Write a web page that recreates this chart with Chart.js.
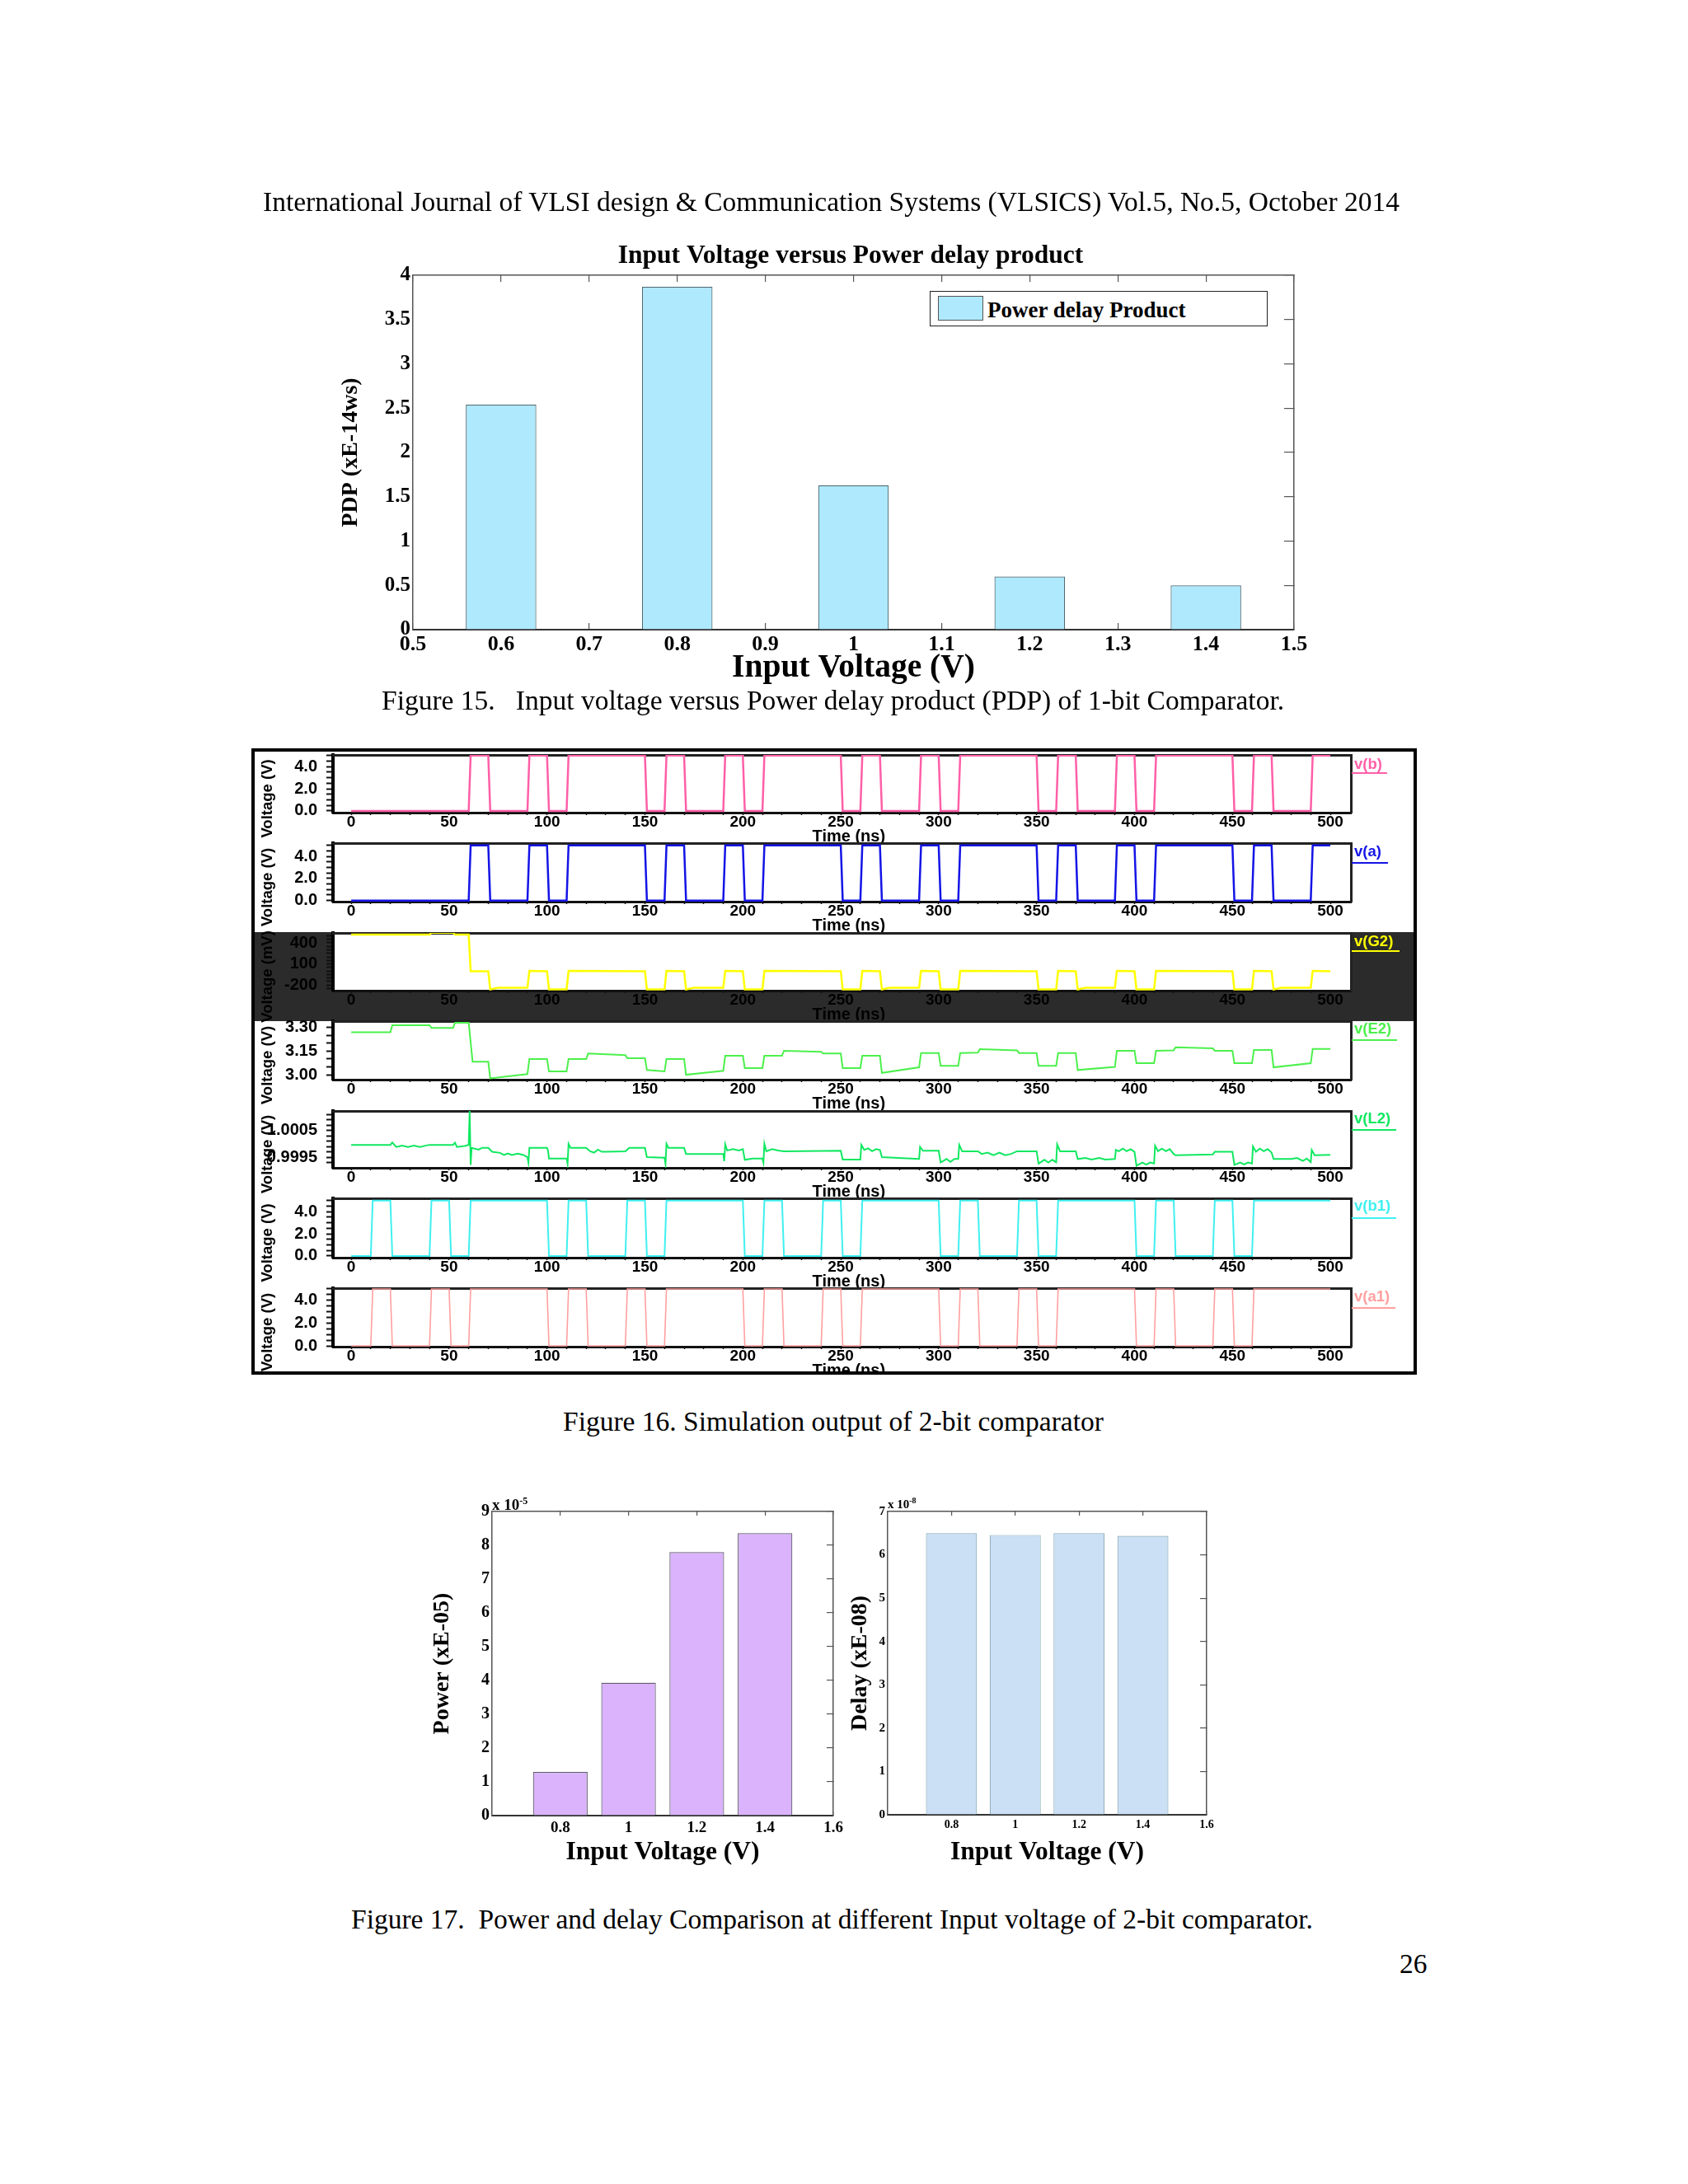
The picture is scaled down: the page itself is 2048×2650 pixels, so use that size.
<!DOCTYPE html>
<html>
<head>
<meta charset="utf-8">
<title>Figures 15-17</title>
<script src="https://cdn.jsdelivr.net/npm/chart.js@4/dist/chart.umd.min.js"></script>
<style>
  html, body { margin: 0; padding: 0; background: #fff; }
  #page { position: relative; width: 2048px; height: 2650px; overflow: hidden; }
  #page canvas { position: absolute; }
  .txt { position: absolute; line-height: 1; white-space: pre; color: #000; font-family: "Liberation Serif", serif; }
  #fig16 { position: absolute; left: 0; top: 0; width: 2048px; height: 1668px; overflow: hidden; filter: blur(0.5px); }
  #band { position: absolute; left: 305px; top: 1131px; width: 1414px; height: 108px; background: #2b2b2b; }
  #frame { position: absolute; left: 305px; top: 908px; width: 1414px; height: 760px; border: 4px solid #000; box-sizing: border-box; }
  #pdpLegend { position: absolute; left: 1128px; top: 353px; width: 410px; height: 43px; box-sizing: border-box; border: 1.5px solid #222; background: #fff; }
  #pdpSwatch { position: absolute; left: 9px; top: 5px; width: 55px; height: 30px; box-sizing: border-box; background: #aee9fd; border: 1px solid #555; }
</style>
</head>
<body>
<div id="page">
  <div id="fig16"><div id="band"></div></div>
</div>
<script>
// Figure 15: PDP
const pdpVoltage = [0.6, 0.8, 1.0, 1.2, 1.4];
const pdpValues = [2.54, 3.87, 1.63, 0.60, 0.50];
const pdpXTicks = [0.5, 0.6, 0.7, 0.8, 0.9, 1.0, 1.1, 1.2, 1.3, 1.4, 1.5];
const pdpYTicks = [0, 0.5, 1, 1.5, 2, 2.5, 3, 3.5, 4];

// Figure 17: power and delay
const cmpVoltage = [0.8, 1.0, 1.2, 1.4];
const powerValues = [1.29, 3.93, 7.80, 8.36];
const delayValues = [6.50, 6.46, 6.50, 6.44];
const cmpXTicks = [0.8, 1.0, 1.2, 1.4, 1.6];
const powerYTicks = [0, 1, 2, 3, 4, 5, 6, 7, 8, 9];
const delayYTicks = [0, 1, 2, 3, 4, 5, 6, 7];

// Figure 16: waveforms
const timeTicks = [0, 10, 20, 30, 40, 50, 60, 70, 80, 90, 100, 110, 120, 130, 140, 150, 160, 170, 180, 190, 200, 210, 220, 230, 240, 250, 260, 270, 280, 290, 300, 310, 320, 330, 340, 350, 360, 370, 380, 390, 400, 410, 420, 430, 440, 450, 460, 470, 480, 490, 500];
const timeLabels = [0, 50, 100, 150, 200, 250, 300, 350, 400, 450, 500];

const voltTicks = [0, 0.5, 1, 1.5, 2, 2.5, 3, 3.5, 4, 4.5, 5];
const voltLabelValues = [0, 2, 4];
const voltLabelText = ['0.0', '2.0', '4.0'];
const g2Ticks = [-250, -200, -150, -100, -50, 0, 50, 100, 150, 200, 250, 300, 350, 400, 450, 500];
const g2LabelValues = [-200, 100, 400];
const g2LabelText = ['-200', '100', '400'];
const e2Ticks = [3.0, 3.05, 3.1, 3.15, 3.2, 3.25, 3.3];
const e2LabelValues = [3.0, 3.15, 3.3];
const e2LabelText = ['3.00', '3.15', '3.30'];
const l2Ticks = [0.9993, 0.9995, 0.9997, 0.9999, 1.0001, 1.0003, 1.0005, 1.0007, 1.0009, 1.0011];
const l2LabelValues = [0.9995, 1.0005];
const l2LabelText = ['0.9995', '1.0005'];

const vbTime = [0, 60, 61, 70, 71, 90, 91, 100, 101, 110, 111, 150, 151, 160, 161, 170, 171, 190, 191, 200, 201, 210, 211, 250, 251, 260, 261, 270, 271, 290, 291, 300, 301, 310, 311, 350, 351, 360, 361, 370, 371, 390, 391, 400, 401, 410, 411, 450, 451, 460, 461, 470, 471, 490, 491, 500];
const vbVolt = [0, 0, 5, 5, 0, 0, 5, 5, 0, 0, 5, 5, 0, 0, 5, 5, 0, 0, 5, 5, 0, 0, 5, 5, 0, 0, 5, 5, 0, 0, 5, 5, 0, 0, 5, 5, 0, 0, 5, 5, 0, 0, 5, 5, 0, 0, 5, 5, 0, 0, 5, 5, 0, 0, 5, 5];
const vaTime = [0, 60, 61, 70, 71, 90, 91, 100, 101, 110, 111, 150, 151, 160, 161, 170, 171, 190, 191, 200, 201, 210, 211, 250, 251, 260, 261, 270, 271, 290, 291, 300, 301, 310, 311, 350, 351, 360, 361, 370, 371, 390, 391, 400, 401, 410, 411, 450, 451, 460, 461, 470, 471, 490, 491, 500];
const vaVolt = [0, 0, 5, 5, 0, 0, 5, 5, 0, 0, 5, 5, 0, 0, 5, 5, 0, 0, 5, 5, 0, 0, 5, 5, 0, 0, 5, 5, 0, 0, 5, 5, 0, 0, 5, 5, 0, 0, 5, 5, 0, 0, 5, 5, 0, 0, 5, 5, 0, 0, 5, 5, 0, 0, 5, 5];

const g2Time = [0, 40, 41, 52, 53, 60, 61, 70, 71, 75, 90, 91, 100, 101, 110, 111, 150, 151, 160, 161, 170, 171, 175, 190, 191, 200, 201, 210, 211, 250, 251, 260, 261, 270, 271, 275, 290, 291, 300, 301, 310, 311, 350, 351, 360, 361, 370, 371, 375, 390, 391, 400, 401, 410, 411, 450, 451, 460, 461, 470, 471, 475, 490, 491, 500];
const g2Volt = [517, 517, 545, 545, 517, 517, -5, -5, -265, -240, -240, 0, -5, -265, -265, 0, -5, -265, -265, 0, -5, -265, -240, -240, 0, -5, -265, -265, 0, -5, -265, -265, 0, -5, -265, -240, -240, 0, -5, -265, -265, 0, -5, -265, -265, 0, -5, -265, -240, -240, 0, -5, -265, -265, 0, -5, -265, -265, 0, -5, -265, -240, -240, 0, -5];

const e2Time = [0, 20, 21, 40, 41, 52, 53, 60, 62, 70, 71, 90, 91, 100, 101, 110, 111, 120, 121, 140, 141, 150, 151, 160, 161, 170, 171, 190, 191, 200, 201, 210, 211, 220, 221, 240, 241, 250, 251, 260, 261, 270, 271, 290, 291, 300, 301, 310, 311, 320, 321, 340, 341, 350, 351, 360, 361, 370, 371, 390, 391, 400, 401, 410, 411, 420, 421, 440, 441, 450, 451, 460, 461, 470, 471, 490, 491, 500];
const e2Volt = [3.269, 3.269, 3.314, 3.314, 3.297, 3.297, 3.33, 3.33, 3.082, 3.082, 2.977, 3.004, 3.10, 3.10, 3.021, 3.021, 3.10, 3.10, 3.135, 3.125, 3.105, 3.105, 3.03, 3.021, 3.10, 3.10, 3.0, 3.025, 3.12, 3.12, 3.042, 3.042, 3.12, 3.12, 3.152, 3.145, 3.135, 3.135, 3.042, 3.042, 3.12, 3.12, 3.012, 3.047, 3.138, 3.138, 3.056, 3.056, 3.138, 3.14, 3.162, 3.155, 3.138, 3.138, 3.056, 3.056, 3.138, 3.138, 3.03, 3.05, 3.152, 3.152, 3.073, 3.073, 3.152, 3.155, 3.174, 3.168, 3.152, 3.152, 3.073, 3.073, 3.157, 3.157, 3.047, 3.073, 3.164, 3.164];

const l2Time = [0, 20, 21, 23, 26, 29, 32, 35, 38, 40, 52, 53, 54, 58, 60, 60.5, 61, 61.5, 65, 67, 70, 72, 76, 78, 80, 82, 85, 88, 90, 90.5, 91, 100, 100.5, 101, 110, 110.5, 111, 112, 120, 122, 124, 126, 128, 130, 140, 142, 150, 151, 160, 160.5, 161, 162, 170, 171, 190, 190.5, 191, 192, 195, 198, 200, 201, 205, 210, 210.5, 211, 212, 215, 218, 221, 250, 251, 260, 260.5, 262, 264, 266, 268, 270, 271, 290, 290.5, 292, 300, 301, 304, 306, 308, 310, 310.5, 312, 320, 322, 325, 328, 331, 334, 337, 340, 350, 351, 354, 356, 358, 360, 360.5, 362, 370, 371, 375, 378, 382, 385, 390, 390.5, 392, 394, 396, 398, 400, 401, 404, 406, 408, 410, 410.5, 412, 414, 416, 418, 420, 421, 440, 441, 450, 451, 454, 456, 458, 460, 460.5, 462, 464, 466, 468, 470, 471, 480, 483, 486, 488, 490, 490.5, 492, 500];
const l2Volt = [0.99996, 0.99996, 1.00005, 0.99988, 0.99993, 0.99988, 0.99993, 0.99988, 0.99993, 0.99996, 0.99996, 1.00004, 0.99988, 0.99992, 0.99996, 1.00123, 0.99921, 0.99985, 0.99978, 0.99985, 0.99985, 0.99970, 0.99966, 0.99958, 0.99964, 0.99958, 0.99963, 0.99958, 0.99950, 0.99930, 0.99985, 0.99985, 0.99975, 0.99945, 0.99945, 0.99925, 1.00000, 0.99985, 0.99985, 0.99972, 0.99967, 0.99978, 0.99970, 0.99970, 0.99972, 0.99985, 0.99985, 0.99950, 0.99948, 0.99925, 1.00000, 0.99985, 0.99985, 0.99962, 0.99962, 0.99935, 0.99998, 0.99975, 0.99980, 0.99975, 0.99980, 0.99940, 0.99945, 0.99945, 0.99930, 1.00000, 0.99972, 0.99980, 0.99975, 0.99972, 0.99974, 0.99941, 0.99941, 0.99996, 0.99977, 0.99983, 0.99972, 0.99980, 0.99977, 0.99950, 0.99943, 0.99988, 0.99974, 0.99974, 0.99930, 0.99943, 0.99932, 0.99943, 0.99943, 0.99996, 0.99972, 0.99972, 0.99962, 0.99967, 0.99957, 0.99967, 0.99957, 0.99962, 0.99972, 0.99972, 0.99926, 0.99940, 0.99930, 0.99940, 0.99931, 0.99998, 0.99972, 0.99972, 0.99943, 0.99947, 0.99941, 0.99947, 0.99941, 0.99943, 0.99977, 0.99972, 0.99982, 0.99972, 0.99980, 0.99970, 0.99918, 0.99930, 0.99922, 0.99930, 0.99926, 0.99993, 0.99972, 0.99982, 0.99972, 0.99980, 0.99962, 0.99957, 0.99960, 0.99970, 0.99970, 0.99921, 0.99930, 0.99923, 0.99930, 0.99926, 0.99990, 0.99970, 0.99982, 0.99972, 0.99980, 0.99967, 0.99943, 0.99943, 0.99947, 0.99936, 0.99945, 0.99931, 0.99977, 0.99957, 0.99959];

const b1Time = [0, 10, 11, 20, 21, 40, 41, 50, 51, 60, 61, 100, 101, 110, 111, 120, 121, 140, 141, 150, 151, 160, 161, 200, 201, 210, 211, 220, 221, 240, 241, 250, 251, 260, 261, 300, 301, 310, 311, 320, 321, 340, 341, 350, 351, 360, 361, 400, 401, 410, 411, 420, 421, 440, 441, 450, 451, 460, 461, 500];
const b1Volt = [0, 0, 5, 5, 0, 0, 5, 5, 0, 0, 5, 5, 0, 0, 5, 5, 0, 0, 5, 5, 0, 0, 5, 5, 0, 0, 5, 5, 0, 0, 5, 5, 0, 0, 5, 5, 0, 0, 5, 5, 0, 0, 5, 5, 0, 0, 5, 5, 0, 0, 5, 5, 0, 0, 5, 5, 0, 0, 5, 5];
const a1Time = [0, 10, 11, 20, 21, 40, 41, 50, 51, 60, 61, 100, 101, 110, 111, 120, 121, 140, 141, 150, 151, 160, 161, 200, 201, 210, 211, 220, 221, 240, 241, 250, 251, 260, 261, 300, 301, 310, 311, 320, 321, 340, 341, 350, 351, 360, 361, 400, 401, 410, 411, 420, 421, 440, 441, 450, 451, 460, 461, 500];
const a1Volt = [0, 0, 5, 5, 0, 0, 5, 5, 0, 0, 5, 5, 0, 0, 5, 5, 0, 0, 5, 5, 0, 0, 5, 5, 0, 0, 5, 5, 0, 0, 5, 5, 0, 0, 5, 5, 0, 0, 5, 5, 0, 0, 5, 5, 0, 0, 5, 5, 0, 0, 5, 5, 0, 0, 5, 5, 0, 0, 5, 5];

const SERIF = '"Liberation Serif", serif';
const SANS = '"Liberation Sans", Arial, sans-serif';
const page = document.getElementById('page');
const fig16 = document.getElementById('fig16');

Chart.defaults.animation = false;
Chart.defaults.responsive = false;

// page text, y is the middle of the line
function addText(parent, html, x, y, size, extra) {
    const el = document.createElement('div');
    el.className = 'txt';
    el.innerHTML = html;
    el.style.left = x + 'px';
    el.style.top = (y - size / 2) + 'px';
    el.style.fontSize = size + 'px';
    if (extra) el.style.cssText += extra;
    parent.appendChild(el);
    return el;
}

function addCanvas(parent, left, top, width, height) {
    const c = document.createElement('canvas');
    c.width = width;
    c.height = height;
    c.style.left = left + 'px';
    c.style.top = top + 'px';
    c.style.width = width + 'px';
    c.style.height = height + 'px';
    parent.appendChild(c);
    return c;
}

function setTicks(values) {
    return function (scale) {
        scale.ticks = values.map(function (v) { return { value: v }; });
    };
}

function shortNumber(value) {
    return String(Number(value.toFixed(1)));
}

// bar figure drawn with MATLAB look: inward ticks on top and right, labels left and bottom
function barChart(cfg) {
    const r = cfg.rect;
    const canvas = addCanvas(page, r.left - cfg.padLeft, r.top - cfg.padTop, r.right - r.left + cfg.padLeft + cfg.padRight, r.bottom - r.top + cfg.padTop + cfg.padBottom);
    const xLimits = { min: cfg.xMin, max: cfg.xMax, offset: false, afterBuildTicks: setTicks(cfg.xTicks) };
    const yLimits = { min: 0, max: cfg.yTicks[cfg.yTicks.length - 1], afterBuildTicks: setTicks(cfg.yTicks) };
    const hair = { color: cfg.axisColor, width: 1.5 };
    return new Chart(canvas, {
        type: 'bar',
        data: {
            datasets: [{
                label: cfg.label,
                data: cfg.x.map(function (v, i) { return { x: v, y: cfg.values[i] }; }),
                backgroundColor: cfg.fill,
                borderColor: cfg.edge,
                borderWidth: 1.2,
                categoryPercentage: 1,
                barPercentage: cfg.barPercent
            }]
        },
        options: {
            layout: { padding: { top: cfg.title ? 0 : cfg.padTop } },
            plugins: {
                legend: { display: false },
                tooltip: { enabled: false },
                title: cfg.title ? {
                    display: true,
                    text: cfg.title,
                    color: '#000',
                    font: { family: SERIF, size: cfg.titleSize, weight: 'bold', lineHeight: 1 },
                    padding: { top: 0, bottom: cfg.padTop - cfg.titleSize }
                } : { display: false }
            },
            scales: {
                x: Object.assign({
                    type: 'linear',
                    position: 'bottom',
                    afterFit: function (s) { s.height = cfg.padBottom; },
                    border: { color: '#333', width: 2 },
                    grid: { offset: false, drawOnChartArea: false, color: cfg.axisColor, tickLength: -cfg.xTickLen, lineWidth: 1.2 },
                    ticks: { autoSkip: false, maxRotation: 0, color: '#000', padding: cfg.xTickPad, callback: shortNumber, font: { family: SERIF, size: cfg.xFont, weight: 'bold', lineHeight: 1 } },
                    title: { display: true, text: 'Input Voltage (V)', color: '#000', padding: { top: 0, bottom: cfg.xTitlePad }, font: { family: SERIF, size: cfg.xTitleSize, weight: 'bold', lineHeight: 1 } }
                }, xLimits),
                y: Object.assign({
                    type: 'linear',
                    position: 'left',
                    afterFit: function (s) { s.width = cfg.padLeft; },
                    border: { color: cfg.axisColor, width: 1.5 },
                    grid: { drawOnChartArea: false, drawTicks: false },
                    ticks: { autoSkip: false, color: '#000', padding: 3, callback: shortNumber, font: { family: SERIF, size: cfg.yFont, weight: 'bold', lineHeight: 1 } },
                    title: { display: true, text: cfg.yTitle, color: '#000', padding: { top: cfg.yTitlePad, bottom: 0 }, font: { family: SERIF, size: cfg.yTitleSize, weight: 'bold', lineHeight: 1 } }
                }, yLimits),
                x2: Object.assign({
                    type: 'linear',
                    position: 'top',
                    afterFit: function (s) { s.height = 0; },
                    border: hair,
                    grid: { offset: false, drawOnChartArea: false, color: cfg.axisColor, tickLength: -cfg.xTickLen, lineWidth: 1.2 },
                    ticks: { display: false }
                }, xLimits),
                y2: Object.assign({
                    type: 'linear',
                    position: 'right',
                    afterFit: function (s) { s.width = cfg.padRight; },
                    border: hair,
                    grid: { drawOnChartArea: false, color: cfg.axisColor, tickLength: -cfg.yTickLen, lineWidth: 1.2 },
                    ticks: { display: false }
                }, yLimits)
            }
        }
    });
}

barChart({
    rect: { left: 501, right: 1570, top: 334, bottom: 764 },
    padLeft: 96, padRight: 89, padTop: 39, padBottom: 70,
    x: pdpVoltage, values: pdpValues, label: 'Power delay Product',
    xMin: 0.5, xMax: 1.5, xTicks: pdpXTicks, yTicks: pdpYTicks,
    fill: '#aee9fd', edge: '#4d6a74', axisColor: '#555', barPercent: 0.8,
    title: 'Input Voltage versus Power delay product', titleSize: 31.5,
    xFont: 26, yFont: 25, xTickLen: 8, yTickLen: 12, xTickPad: 13,
    xTitleSize: 39.5, xTitlePad: 3,
    yTitle: 'PDP (xE-14ws)', yTitleSize: 28, yTitlePad: 7
});

barChart({
    rect: { left: 597, right: 1011, top: 1834, bottom: 2203 },
    padLeft: 82, padRight: 40, padTop: 20, padBottom: 70,
    x: cmpVoltage, values: powerValues, label: 'Power',
    xMin: 0.6, xMax: 1.6, xTicks: cmpXTicks, yTicks: powerYTicks,
    fill: '#dab3fc', edge: '#5f5a6a', axisColor: '#555', barPercent: 0.8,
    xFont: 19, yFont: 20, xTickLen: 5, yTickLen: 8, xTickPad: 10.5,
    xTitleSize: 31.5, xTitlePad: 9,
    yTitle: 'Power (xE-05)', yTitleSize: 28, yTitlePad: 8
});

barChart({
    rect: { left: 1077, right: 1464, top: 1834, bottom: 2202 },
    padLeft: 60, padRight: 40, padTop: 20, padBottom: 70,
    x: cmpVoltage, values: delayValues, label: 'Delay',
    xMin: 0.6, xMax: 1.6, xTicks: cmpXTicks, yTicks: delayYTicks,
    fill: '#cbe0f5', edge: '#8fb0bd', axisColor: '#555', barPercent: 0.8,
    xFont: 14, yFont: 15, xTickLen: 5, yTickLen: 8, xTickPad: 10,
    xTitleSize: 31.5, xTitlePad: 8,
    yTitle: 'Delay (xE-08)', yTitleSize: 28, yTitlePad: 13
});

// white plot background, the middle panel sits on a dark band
const plotFill = {
    id: 'plotFill',
    beforeDraw: function (chart) {
        const a = chart.chartArea;
        chart.ctx.save();
        chart.ctx.fillStyle = '#fff';
        chart.ctx.fillRect(a.left, a.top, a.right - a.left, a.bottom - a.top);
        chart.ctx.restore();
    }
};

const PLOT_LEFT = 404, PLOT_RIGHT = 1639, T_MIN = -9.3, T_MAX = 510.5;

function wavePanel(p) {
    const padLeft = 100, padTop = 24, padRight = 30, padBottom = 42;
    const canvas = addCanvas(fig16, PLOT_LEFT - padLeft, p.top - padTop, PLOT_RIGHT - PLOT_LEFT + padLeft + padRight, p.bottom - p.top + padTop + padBottom);
    const xLimits = { min: T_MIN, max: T_MAX };
    const yLimits = { min: p.yMin, max: p.yMax };
    return new Chart(canvas, {
        type: 'line',
        data: {
            datasets: [{
                label: p.name,
                data: p.time.map(function (t, i) { return { x: t, y: p.volt[i] }; }),
                borderColor: p.color,
                borderWidth: p.lineWidth,
                pointRadius: 0,
                tension: 0
            }]
        },
        options: {
            layout: { padding: { top: padTop, right: padRight } },
            plugins: { legend: { display: false }, tooltip: { enabled: false } },
            scales: {
                x: Object.assign({
                    type: 'linear',
                    position: 'bottom',
                    afterFit: function (s) { s.height = padBottom; },
                    afterBuildTicks: setTicks(timeTicks),
                    border: { color: '#111', width: 3 },
                    grid: { drawOnChartArea: false, color: '#111', tickLength: 3, tickWidth: 1.5 },
                    ticks: {
                        autoSkip: false, maxRotation: 0, color: '#000', padding: -1,
                        font: { family: SANS, size: 19, weight: 'bold', lineHeight: 1 },
                        callback: function (v) { return timeLabels.indexOf(v) >= 0 ? String(v) : ''; }
                    },
                    title: { display: true, text: '   Time (ns)', color: '#000', padding: { top: 0, bottom: 1 }, font: { family: SANS, size: 20, weight: 'bold', lineHeight: 1.2 } }
                }, xLimits),
                y: Object.assign({
                    type: 'linear',
                    position: 'left',
                    afterFit: function (s) { s.width = padLeft; },
                    afterBuildTicks: setTicks(p.yTicks),
                    border: { color: '#000', width: 4 },
                    grid: { drawOnChartArea: false, color: '#111', tickLength: 8, tickWidth: 2 },
                    ticks: {
                        autoSkip: false, color: '#000', padding: 11,
                        font: { family: SANS, size: 20, weight: 'bold', lineHeight: 1 },
                        callback: function (v) {
                            const i = p.labelValues.indexOf(v);
                            return i >= 0 ? p.labelText[i] : '';
                        }
                    },
                    title: { display: true, text: p.yTitle + '       ', color: '#000', padding: { top: 12, bottom: 0 }, font: { family: SANS, size: 18.5, weight: 'bold', lineHeight: 1 } }
                }, yLimits),
                x2: Object.assign({
                    type: 'linear',
                    position: 'top',
                    afterFit: function (s) { s.height = 0; },
                    border: { color: '#222', width: 3 },
                    grid: { drawOnChartArea: false, drawTicks: false },
                    ticks: { display: false }
                }, xLimits),
                y2: Object.assign({
                    type: 'linear',
                    position: 'right',
                    afterFit: function (s) { s.width = 0; },
                    border: { color: '#222', width: 3 },
                    grid: { drawOnChartArea: false, drawTicks: false },
                    ticks: { display: false }
                }, yLimits)
            }
        },
        plugins: [plotFill]
    });
}

const panels = [
    { name: 'v(b)', color: '#ff5fa8', lineWidth: 2.5, top: 916, bottom: 986, yMin: -0.15, yMax: 5.05, time: vbTime, volt: vbVolt, yTicks: voltTicks, labelValues: voltLabelValues, labelText: voltLabelText, yTitle: 'Voltage (V)', legendY: 927, lineY: 938, lineEnd: 1683 },
    { name: 'v(a)', color: '#1414e6', lineWidth: 2.5, top: 1023, bottom: 1094, yMin: -0.1, yMax: 5.2, time: vaTime, volt: vaVolt, yTicks: voltTicks, labelValues: voltLabelValues, labelText: voltLabelText, yTitle: 'Voltage (V)', legendY: 1033, lineY: 1047, lineEnd: 1684 },
    { name: 'v(G2)', color: '#ffff00', lineWidth: 2.5, top: 1132, bottom: 1202, yMin: -282, yMax: 541, time: g2Time, volt: g2Volt, yTicks: g2Ticks, labelValues: g2LabelValues, labelText: g2LabelText, yTitle: 'Voltage (mV)', legendY: 1142, lineY: 1154, lineEnd: 1698 },
    { name: 'v(E2)', color: '#4cf04c', lineWidth: 2, top: 1239, bottom: 1310, yMin: 2.969, yMax: 3.34, time: e2Time, volt: e2Volt, yTicks: e2Ticks, labelValues: e2LabelValues, labelText: e2LabelText, yTitle: 'Voltage (V)', legendY: 1248, lineY: 1262, lineEnd: 1695 },
    { name: 'v(L2)', color: '#10e860', lineWidth: 2, top: 1348, bottom: 1417, yMin: 0.9991, yMax: 1.00123, time: l2Time, volt: l2Volt, yTicks: l2Ticks, labelValues: l2LabelValues, labelText: l2LabelText, yTitle: 'Voltage (V)', legendY: 1357, lineY: 1371, lineEnd: 1694 },
    { name: 'v(b1)', color: '#40f0f0', lineWidth: 2, top: 1454, bottom: 1526, yMin: -0.15, yMax: 5.2, time: b1Time, volt: b1Volt, yTicks: voltTicks, labelValues: voltLabelValues, labelText: voltLabelText, yTitle: 'Voltage (V)', legendY: 1463, lineY: 1478, lineEnd: 1694 },
    { name: 'v(a1)', color: '#ffa0a0', lineWidth: 1.6, top: 1563, bottom: 1634, yMin: -0.07, yMax: 5.07, time: a1Time, volt: a1Volt, yTicks: voltTicks, labelValues: voltLabelValues, labelText: voltLabelText, yTitle: 'Voltage (V)', legendY: 1573, lineY: 1587, lineEnd: 1693 }
];

panels.forEach(function (p) {
    wavePanel(p);
    addText(fig16, p.name, 1643, p.legendY, 18.5, 'font-family:' + SANS + ';font-weight:bold;color:' + p.color + ';');
    const rule = document.createElement('div');
    rule.style.cssText = 'position:absolute;left:1640px;top:' + (p.lineY - 1) + 'px;width:' + (p.lineEnd - 1640) + 'px;height:2px;background:' + p.color + ';';
    fig16.appendChild(rule);
});

const frame = document.createElement('div');
frame.id = 'frame';
fig16.appendChild(frame);

// legend of figure 15
const legend = document.createElement('div');
legend.id = 'pdpLegend';
legend.innerHTML = '<div id="pdpSwatch"></div>';
page.appendChild(legend);
addText(legend, 'Power delay Product', 69, 22, 27, 'font-weight:bold;');

// exponents of figure 17
addText(page, 'x 10<sup style="font-size:12px;line-height:0">-5</sup>', 597, 1825, 19, 'font-weight:bold;');
addText(page, 'x 10<sup style="font-size:10px;line-height:0">-8</sup>', 1077, 1825, 15, 'font-weight:bold;');

// running text of the page
addText(page, 'International Journal of VLSI design &amp; Communication Systems (VLSICS) Vol.5, No.5, October 2014', 319, 245, 33.5);
addText(page, 'Figure 15.   Input voltage versus Power delay product (PDP) of 1-bit Comparator.', 463, 850, 33.5);
addText(page, 'Figure 16. Simulation output of 2-bit comparator', 683, 1725, 33.5);
addText(page, 'Figure 17.  Power and delay Comparison at different Input voltage of 2-bit comparator.', 426, 2329, 33.5);
addText(page, '26', 1698, 2383, 33.5);
</script>
</body>
</html>
